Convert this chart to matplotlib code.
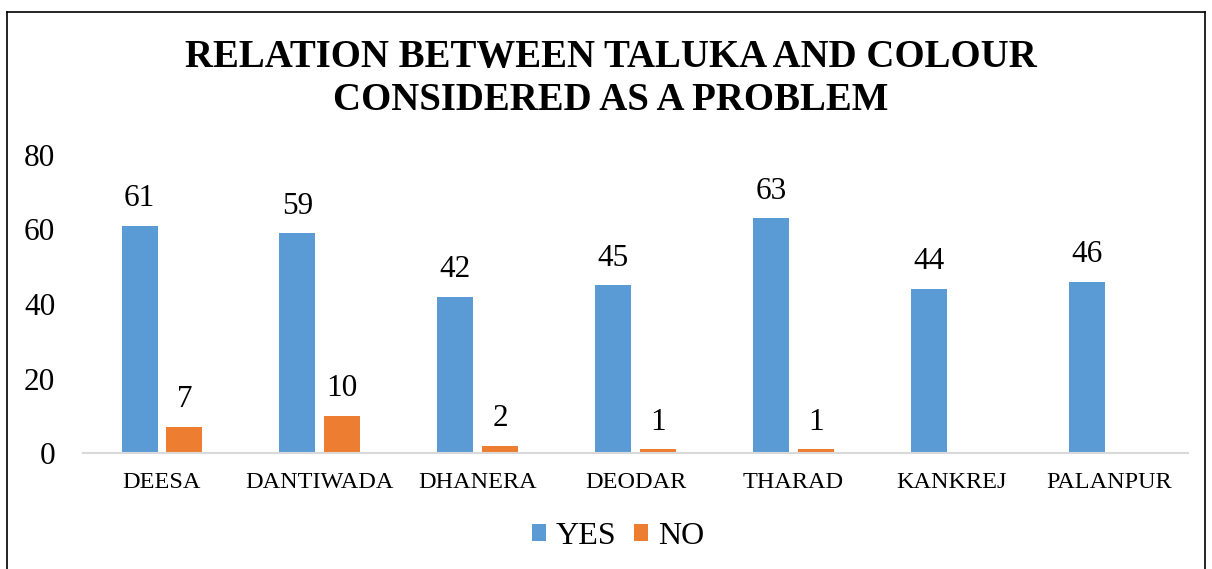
import matplotlib.pyplot as plt
import numpy as np
from matplotlib.lines import Line2D

plt.rcParams['font.family'] = ['Liberation Serif', 'DejaVu Serif']

talukas = ['DEESA', 'DANTIWADA', 'DHANERA', 'DEODAR', 'THARAD', 'KANKREJ', 'PALANPUR']
yes_counts = [61, 59, 42, 45, 63, 44, 46]
no_counts = [7, 10, 2, 1, 1, 0, 0]

blue = '#5b9bd5'
orange = '#ed7d31'

fig = plt.figure(figsize=(12.12, 5.69), dpi=100)
ax = fig.add_axes([83 / 1212, 1 - 453 / 569, (1188 - 83) / 1212, 298 / 569])

x = np.arange(len(talukas))
w = 0.228
off = 0.142
bars_yes = ax.bar(x - off, yes_counts, w, color=blue, label='YES')
bars_no = ax.bar(x + off, no_counts, w, color=orange, label='NO')

for bars, vals in ((bars_yes, yes_counts), (bars_no, no_counts)):
    for b, v in zip(bars, vals):
        if v == 0:
            continue
        ax.text(b.get_x() + b.get_width() / 2, v + 3.4, str(v),
                ha='center', va='bottom', fontsize=22.5)

ax.set_xlim(-0.5, len(talukas) - 0.5)
ax.set_ylim(0, 80)
ax.set_yticks([0, 20, 40, 60, 80])
ax.tick_params(axis='y', length=0, labelsize=22.5, pad=20)
ax.tick_params(axis='x', length=0, labelsize=17.5, pad=14)
ax.set_xticks(x)
ax.set_xticklabels(talukas)
for side in ('top', 'right', 'left'):
    ax.spines[side].set_visible(False)
ax.spines['bottom'].set_color('#d9d9d9')
ax.spines['bottom'].set_linewidth(1.5)

fig.text(0.504, 1 - 79 / 569, 'RELATION BETWEEN TALUKA AND COLOUR\nCONSIDERED AS A PROBLEM',
         ha='center', va='center', fontsize=28, fontweight='bold', linespacing=1.2)

fig.legend(handles=[bars_yes, bars_no], labels=['YES', 'NO'], loc='center',
           bbox_to_anchor=(0.51, 1 - 536 / 569), ncol=2, frameon=False,
           fontsize=23, handlelength=0.45, handleheight=0.45, handletextpad=0.3,
           columnspacing=0.55)

# outer frame (bottom edge runs off the canvas)
fl = dict(color='black', linewidth=1.2, transform=fig.transFigure)
fig.add_artist(Line2D([7 / 1212, 7 / 1212], [0, 1 - 12 / 569], **fl))
fig.add_artist(Line2D([7 / 1212, 1205 / 1212], [1 - 12 / 569, 1 - 12 / 569], **fl))
fig.add_artist(Line2D([1205 / 1212, 1205 / 1212], [0, 1 - 12 / 569], **fl))

fig.savefig('out.png', dpi=100)
